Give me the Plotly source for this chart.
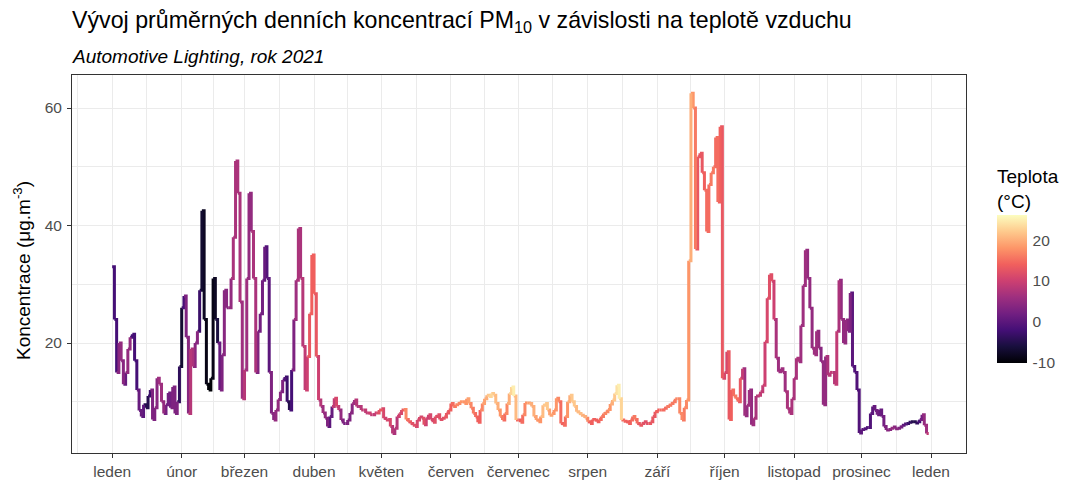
import pandas as pd
import plotly.graph_objects as go
from plotly.colors import sequential, make_colorscale, sample_colorscale

# ---------------- data (daily PM10 means, µg/m3, and daily temperature, °C) ----------------
MONTH_LABELS = ["leden", "únor", "březen", "duben", "květen", "červen", "červenec",
                "srpen", "září", "říjen", "listopad", "prosinec", "leden"]
TEMP_TICKS = [-10, 0, 10, 20]
TEMP_TICK_LABELS = ["-10", "0", "10", "20"]
PM_TICKS = [20, 40, 60]

pm10_jan = [33, 24, 15, 20, 17, 13, 15, 19, 21, 21.5, 17, 12, 8.5, 7.5, 9.5, 9, 11, 12, 7, 9,
            14, 13, 10, 8, 9.5, 11.5, 9, 12.5, 8, 10, 16]
pm10_feb = [26, 28, 21, 8, 19, 16, 20, 22, 29, 42.5, 24, 13, 12, 14, 31, 24, 20, 12, 18, 29,
            26, 26, 31, 38, 51, 45.5, 27, 10.5]
pm10_mar = [15.4, 31, 45.5, 39, 31, 15, 22, 25, 30.7, 36.4, 31, 15, 8, 6.9, 8.6, 10.4, 11.7, 13.7,
            14.2, 10, 8.6, 15.4, 24, 30.7, 39.5, 31, 19.4, 12, 17.7, 25, 35]
pm10_apr = [28.4, 17.7, 10.3, 9.2, 8.1, 7.2, 5.8, 7.5, 9.2, 10.6, 9.2, 8.6, 6.9, 6.3, 6.3, 6.9,
            8.1, 9.7, 10.3, 9.2, 9.2, 8.6, 8.6, 8.1, 8.1, 7.8, 7.8, 8.1, 8.1, 8.6]
pm10_may = [8.8, 7.2, 6.9, 7.0, 5.8, 4.6, 5.5, 7.5, 8.0, 8.6, 8.7, 7.0, 6.6, 6.3, 6.0, 5.8, 6.9,
            7.4, 7.2, 6.1, 7.2, 7.8, 7.0, 6.5, 7.5, 7.8, 7.0, 7.2, 7.4, 8.1, 8.6]
pm10_jun = [9.7, 9.2, 9.5, 9.7, 10.0, 10.0, 9.7, 10.5, 9.7, 8.9, 8.0, 7.4, 6.5, 8.6, 9.7, 10.5,
            11.1, 10.9, 11.4, 11.1, 9.7, 8.6, 7.5, 6.9, 8.0, 9.7, 11.4, 12.5, 11.0, 6.9]
pm10_jul = [6.9, 6.5, 7.8, 9.8, 9.8, 9.7, 9.2, 7.5, 6.9, 6.6, 7.5, 9.4, 9.7, 8.6, 7.7, 8.0, 8.6,
            10.6, 10.0, 6.3, 6.0, 7.5, 10.0, 11.1, 10.0, 9.2, 8.3, 8.0, 7.7, 7.5, 7.2]
pm10_aug = [6.6, 6.3, 7.0, 6.9, 6.6, 7.0, 7.5, 8.0, 8.3, 8.7, 9.6, 10.3, 11.4, 12.8, 10.5, 6.9,
            6.7, 6.6, 6.3, 6.9, 7.5, 7.0, 6.3, 6.0, 6.3, 6.6, 6.3, 6.3, 6.6, 7.5, 8.3]
pm10_sep = [8.6, 8.6, 8.6, 8.9, 9.2, 9.4, 9.7, 10.0, 10.5, 10.5, 8.0, 6.9, 9.0, 10.3, 34, 62.5,
            60, 36, 51.7, 52.3, 49, 46, 39, 47, 49, 50, 55, 44, 56.8, 14]
pm10_oct = [15, 18.5, 7, 12, 11, 10.5, 10, 14, 15.6, 7.6, 9.4, 12, 6.1, 7.2, 11, 11.1, 11.7, 12.8,
            20.2, 27.6, 31.6, 30.5, 24, 17.4, 15.1, 15.6, 15, 11.7, 8.8, 8, 10.5]
pm10_nov = [14, 17.4, 16.8, 23, 29.8, 35.8, 31, 25.9, 19.1, 18, 22, 19.1, 16.8, 9.5, 17.7, 14.5,
            15, 15, 13, 22, 30.7, 24, 20, 23.9, 22, 28.5, 16, 15, 12, 4.7]
pm10_dec = [5.3, 5.4, 5.6, 5.6, 8.0, 9.2, 8.5, 7.8, 8.6, 7.5, 5.8, 5.2, 5.3, 5.5, 5.7, 5.4, 5.5,
            5.7, 6.0, 6.2, 6.3, 6.5, 6.6, 6.6, 6.4, 6.6, 7.0, 7.8, 6.0, 4.6]

temp_jan = [-2, -2, 4, 5, 4, 1, 5, 5, -2, -2, -2, 1, 1, 0, -5, -5, -3, 3, 3, 4,
            6, 6, 5, 2, 2, 2, 3, 3, 3, -4, -7]
temp_feb = [-2, 3, 4, 8, 7, 4, 4, -3, -7, -8, -9, -10, -10, -9, -8, -6, 1, 3, 4, 4,
            4, 5, 7, 7, 7, 7, 6, 8]
temp_mar = [6, 5, 5, 7, 7, 3, 2, 2, 1, -1, 0, 3, 4, 5, 5, 4, 3, -1, -3, -5,
            -2, 3, 6, 7, 7, 8, 9, 10, 13, 14, 14]
temp_apr = [13, 10, 8, 6, 5, 3, 0, 1, 9, 11, 9, 5, 3, 2, 3, 3, 4, 6, 8, 7,
            8, 9, 9, 9, 10, 9, 9, 10, 12, 13]
temp_may = [11, 10, 11, 11, 8, 7, 8, 10, 11, 13, 17, 15, 13, 12, 12, 11, 11, 11, 12, 10,
            10, 11, 11, 12, 12, 12, 12, 12, 13, 13, 14]
temp_jun = [15, 16, 17, 17, 18, 18, 18, 19, 17, 16, 15, 14, 14, 17, 19, 20, 22, 23, 22, 21,
            20, 18, 16, 15, 17, 20, 23, 25, 21, 15]
temp_jul = [14, 15, 17, 18, 19, 20, 20, 19, 18, 18, 21, 22, 22, 19, 19, 18, 18, 17, 15, 14,
            15, 18, 20, 22, 22, 21, 21, 21, 20, 20, 17]
temp_aug = [14, 14, 14, 14, 14, 15, 16, 17, 17, 18, 20, 22, 24, 25, 23, 15, 14, 14, 14, 15,
            16, 15, 13, 13, 12, 12, 12, 13, 13, 13, 14]
temp_sep = [14, 15, 15, 15, 16, 16, 16, 16, 17, 17, 17, 16, 17, 18, 20, 18, 16, 13, 13, 13,
            14, 15, 15, 16, 16, 15, 15, 14, 13, 11]
temp_oct = [11, 13, 14, 15, 16, 15, 13, 9, 6, 5, 6, 5, 6, 7, 8, 9, 9, 10, 11, 12,
            12, 10, 7, 6, 6, 6, 6, 7, 7, 7, 7]
temp_nov = [7, 7, 6, 6, 6, 5, 5, 5, 6, 6, 5, 4, 5, 5, 7, 8, 9, 8, 9, 7,
            5, 5, 5, 4, 3, 0, -1, -1, -1, 0]
temp_dec = [0, -1, -1, -1, 0, 1, 2, 1, 1, 2, 3, 4, 4, 5, 4, 4, 3, 2, 0, -1,
            -3, -4, -5, -5, -4, -2, 2, 5, 6, 9]

pm10 = (pm10_jan + pm10_feb + pm10_mar + pm10_apr + pm10_may + pm10_jun + pm10_jul
        + pm10_aug + pm10_sep + pm10_oct + pm10_nov + pm10_dec)
temp = (temp_jan + temp_feb + temp_mar + temp_apr + temp_may + temp_jun + temp_jul
        + temp_aug + temp_sep + temp_oct + temp_nov + temp_dec)

# ---------------- build figure ----------------
FONT = "Liberation Sans, Arial, sans-serif"
START = pd.Timestamp("2021-01-01")
T_MIN, T_MAX = -10.2, 26.2
magma = make_colorscale(sequential.Magma)

edges = pd.date_range(START, periods=len(pm10) + 1, freq="D")
edge_str = [d.strftime("%Y-%m-%d %H:%M") for d in edges]

# step line (hv), one trace per temperature colour
segments = {}
for i, (v, t) in enumerate(zip(pm10, temp)):
    v_next = pm10[i + 1] if i + 1 < len(pm10) else v
    xs, ys = segments.setdefault(t, ([], []))
    xs.extend([edge_str[i], edge_str[i + 1], edge_str[i + 1], None])
    ys.extend([v, v, v_next, None])

fig = go.Figure()
for t in sorted(segments):
    xs, ys = segments[t]
    col = sample_colorscale(magma, [(t - T_MIN) / (T_MAX - T_MIN)])[0]
    fig.add_trace(go.Scatter(x=xs, y=ys, mode="lines", line=dict(color=col, width=3),
                             hoverinfo="skip", showlegend=False, connectgaps=False))

# page geometry: the html body has an 8px margin, so the figure is drawn 8px in
OFF = 8
W, H = 1067 - OFF, 481 - OFF
# panel edges in page pixels
L, R, TOP, BOT = 72, 966, 75, 453
PW, PH = R - L, BOT - TOP
def px_x(x): return (x - L) / PW
def px_y(y): return (BOT - y) / PH

fig.add_trace(go.Scatter(
    x=[edge_str[0]], y=[pm10[0]], mode="markers", hoverinfo="skip", showlegend=False,
    marker=dict(size=1, opacity=0, color=[T_MIN], cmin=T_MIN, cmax=T_MAX, colorscale=magma,
                showscale=True,
                colorbar=dict(thickness=30, thicknessmode="pixels",
                              len=148 / PH, lenmode="fraction",
                              x=px_x(997), xanchor="left", xpad=0,
                              y=px_y(289), yanchor="middle", ypad=0,
                              outlinewidth=0, tickmode="array", tickvals=TEMP_TICKS,
                              ticktext=TEMP_TICK_LABELS,
                              ticks="outside", ticklen=3, tickcolor="white",
                              tickfont=dict(family=FONT, size=15.5, color="#4d4d4d"))),
))

month_starts = pd.date_range(START, periods=13, freq="MS")
tick_str = [d.strftime("%Y-%m-%d") for d in month_starts]
mids = [month_starts[0] - (month_starts[1] - month_starts[0]) / 2]
mids += [a + (b - a) / 2 for a, b in zip(month_starts[:-1], month_starts[1:])]
mids += [month_starts[-1] + (month_starts[-1] - month_starts[-2]) / 2]
mid_str = [d.strftime("%Y-%m-%d %H:%M") for d in mids]

x_lo = (START + pd.Timedelta(days=-17.9)).strftime("%Y-%m-%d %H:%M")
x_hi = (START + pd.Timedelta(days=380.6)).strftime("%Y-%m-%d %H:%M")

axis_common = dict(showline=True, mirror=True, linecolor="#333333", linewidth=1,
                   ticks="outside", ticklen=4, tickcolor="#333333", tickwidth=1,
                   showgrid=True, gridcolor="#ebebeb", gridwidth=1.4, zeroline=False,
                   tickfont=dict(family=FONT, size=15.5, color="#4d4d4d"))

fig.update_xaxes(type="date", range=[x_lo, x_hi], tickmode="array", tickvals=tick_str,
                 ticktext=MONTH_LABELS,
                 minor=dict(tickmode="array", tickvals=mid_str, showgrid=True,
                            gridcolor="#ebebeb", gridwidth=0.8, ticks=""),
                 **axis_common)
fig.update_yaxes(range=[1.28, 65.62], tickmode="array", tickvals=PM_TICKS,
                 ticklabelstandoff=2,
                 minor=dict(tickmode="array", tickvals=[10, 30, 50], showgrid=True,
                            gridcolor="#ebebeb", gridwidth=0.8, ticks=""),
                 **axis_common)

annotations = [
    dict(text="Vývoj průměrných denních koncentrací PM<sub>10</sub> v závislosti na teplotě vzduchu",
         x=px_x(70), y=px_y(21), xanchor="left", yanchor="middle",
         font=dict(family=FONT, size=23.2, color="black")),
    dict(text="<i>Automotive Lighting, rok 2021</i>",
         x=px_x(70), y=px_y(57), xanchor="left", yanchor="middle",
         font=dict(family=FONT, size=19, color="black")),
    dict(text="Koncentrace (μg.m<sup>-3</sup>)", textangle=-90,
         x=px_x(22), y=px_y(271), xanchor="center", yanchor="middle",
         font=dict(family=FONT, size=19, color="black")),
    dict(text="Teplota<br>(°C)", x=px_x(995), y=px_y(189), xanchor="left", yanchor="middle",
         align="left", font=dict(family=FONT, size=19, color="black")),
]
for a in annotations:
    a.update(xref="paper", yref="paper", showarrow=False)

fig.update_layout(width=W, height=H,
                  margin=dict(l=L - OFF, r=W - (R - OFF), t=TOP - OFF, b=H - (BOT - OFF),
                              pad=0, autoexpand=False),
                  paper_bgcolor="white", plot_bgcolor="white",
                  font=dict(family=FONT), annotations=annotations)

fig.write_html("out.html")
